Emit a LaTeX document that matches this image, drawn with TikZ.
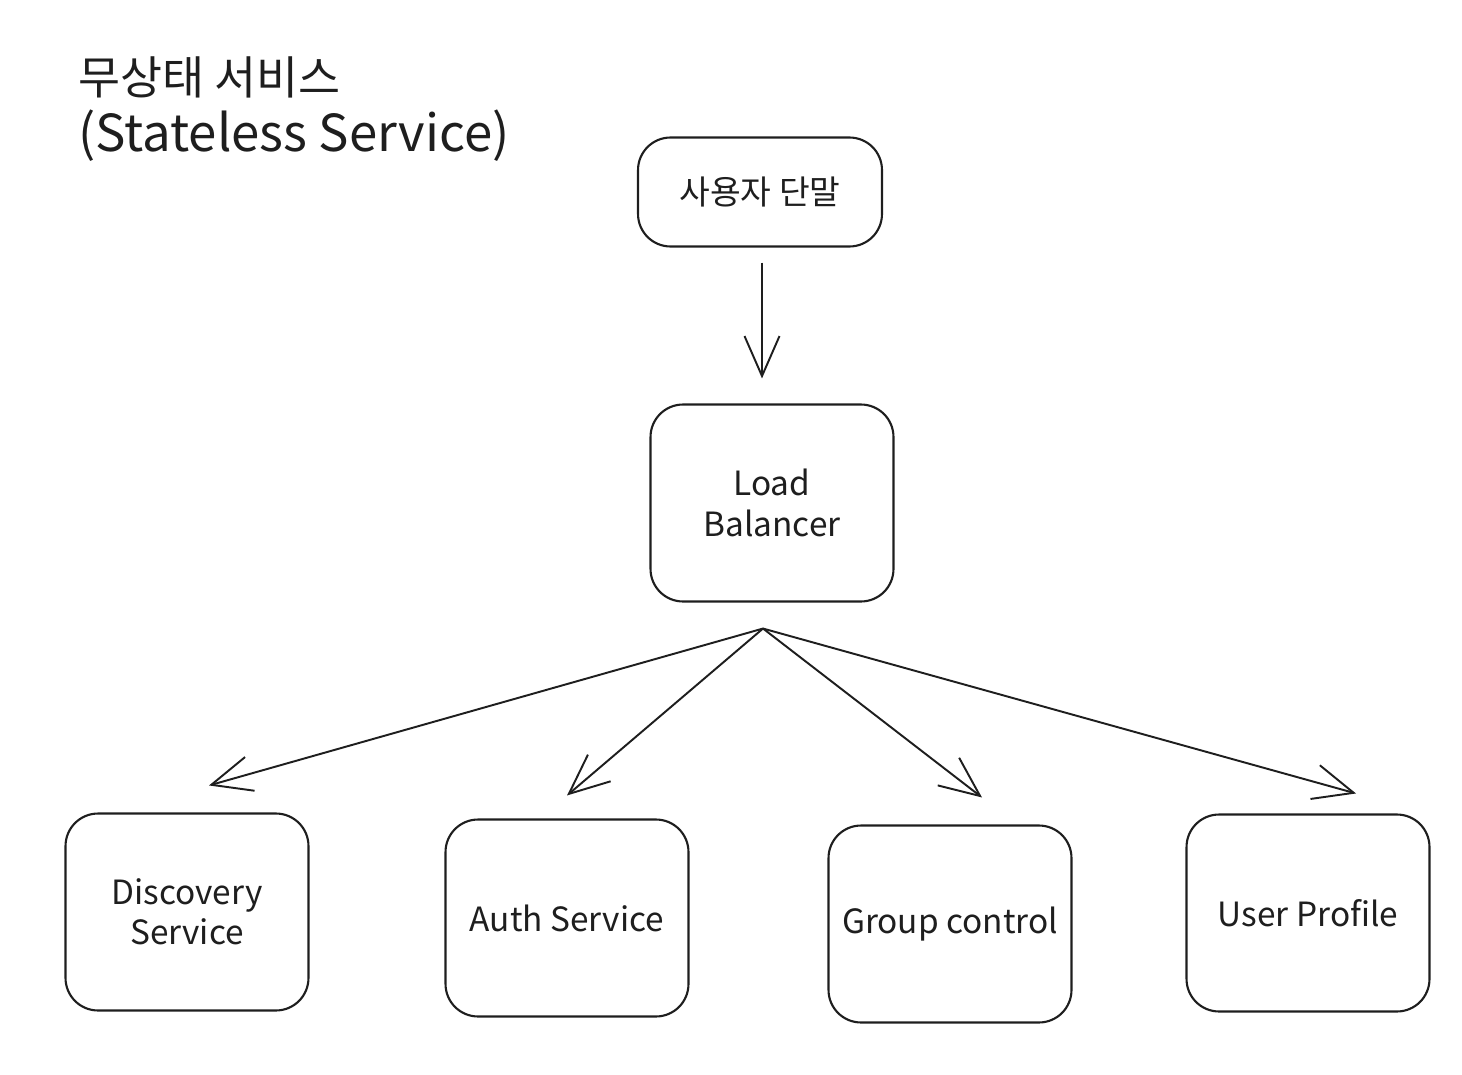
\documentclass[tikz,border=0pt]{standalone}
\usepackage{fontspec}
\setmainfont{Noto Sans CJK KR}
\usetikzlibrary{arrows.meta,positioning,calc}
\definecolor{inkDark}{RGB}{30,30,30}

\begin{document}
\begin{tikzpicture}[x=0.02cm,y=-0.02cm,
  sketchbox/.style={draw=inkDark, line width=1.2pt, rounded corners=0.65cm,
    minimum width=4.86cm, minimum height=3.94cm, align=center, text=inkDark,
    font=\fontsize{19}{23}\selectfont},
  sketcharrow/.style={draw=inkDark, line width=1.1pt,
    -{Straight Barb[length=0.8cm, width=0.7cm]}}]
\useasboundingbox (0,0) rectangle (1462,1074);
% title
\node[anchor=base west, inner sep=0pt, text=inkDark, font=\fontsize{26}{30}\selectfont] (title) at (78,95) {무상태 서비스};
\node[anchor=base west, inner sep=0pt, text=inkDark, font=\fontsize{29}{33}\selectfont] (subtitle) at (78,152) {(Stateless Service)};
% boxes
\node[sketchbox, minimum width=4.88cm, minimum height=2.18cm, font=\fontsize{19}{23}\selectfont] (user) at (760,192) {사용자 단말};
\node[sketchbox] (lb) at (772,503) {Load\\Balancer};
\node[sketchbox] (disc) at (187,912) {Discovery\\Service};
\node[sketchbox] (auth) at (567,918) {Auth Service};
\node[sketchbox] (group) at (950,924) {Group control};
\node[sketchbox] (profile) at (1308,913) {User Profile};
% arrows
\coordinate (fan) at ($(lb.south)+(-9,26)$);
\draw[sketcharrow] ($(user.south)+(2,15)$) -- ($(user.south |- lb.north)+(2,-25)$);
\foreach \tgt/\dx/\dy in {disc/22/-27, auth/0/-23, group/32/-27, profile/48/-20}
{
\draw[sketcharrow] (fan) -- ($(\tgt.north)+(\dx,\dy)$);
}
\end{tikzpicture}
\end{document}
